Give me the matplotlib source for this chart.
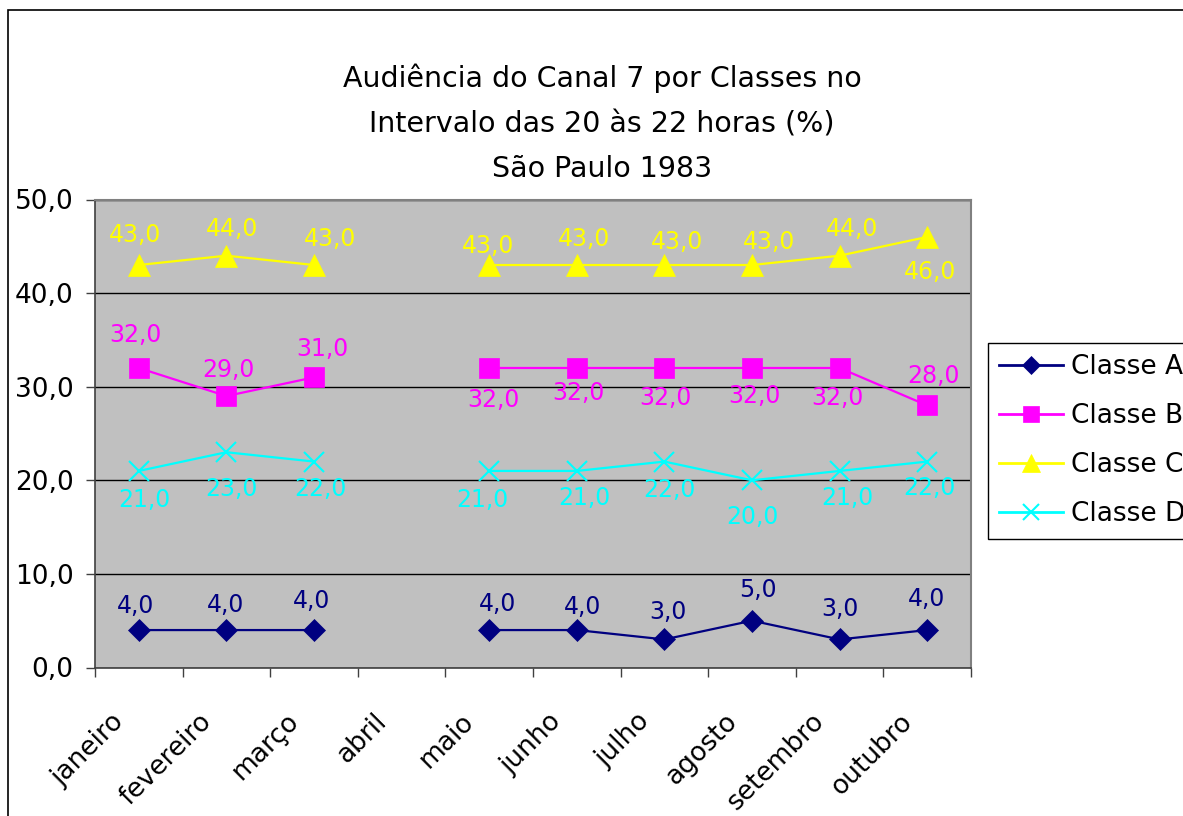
import numpy as np
import matplotlib
matplotlib.use("Agg")
import matplotlib.pyplot as plt
from matplotlib.patches import Rectangle

W, H = 1183, 816
PX = 0.72  # points per pixel at dpi 100

months = ["janeiro", "fevereiro", "março", "abril", "maio", "junho",
          "julho", "agosto", "setembro", "outubro"]
classe_a = [4, 4, 4, np.nan, 4, 4, 3, 5, 3, 4]
classe_b = [32, 29, 31, np.nan, 32, 32, 32, 32, 32, 28]
classe_c = [43, 44, 43, np.nan, 43, 43, 43, 43, 44, 46]
classe_d = [21, 23, 22, np.nan, 21, 21, 22, 20, 21, 22]
series_names = ["Classe A", "Classe B", "Classe C", "Classe D"]
title = "Audiência do Canal 7 por Classes no\nIntervalo das 20 às 22 horas (%)\nSão Paulo 1983"

# label offsets in pixels (dx, dy up) per point
off_a = [(-3, 24), (-1, 25), (-2, 29), None, (8, 26), (6, 23), (4, 27), (6, 31), (0, 30), (-1, 31)]
off_b = [(-3, 33), (2, 26), (8, 28), None, (4, -32), (2, -25), (1, -30), (2, -28), (-2, -30), (6, 29)]
off_c = [(-4, 30), (6, 27), (16, 26), None, (-1, 19), (7, 26), (13, 23), (17, 23), (12, 27), (3, -35)]
off_d = [(6, -29), (5, -37), (6, -27), None, (-7, -29), (8, -27), (5, -28), (0, -37), (8, -27), (2, -26)]

styles = [
    dict(color="#000080", marker="D", ms=11.5),
    dict(color="#FF00FF", marker="s", ms=14),
    dict(color="#FFFF00", marker="^", ms=16),
    dict(color="#00FFFF", marker="x", ms=15),
]

plt.rcParams["font.family"] = ["DejaVu Sans"]
fig = plt.figure(figsize=(W / 100, H / 100), dpi=100)
ax = fig.add_axes([95 / W, 1 - 667.5 / H, (971 - 95) / W, (667.5 - 199.5) / H])
ax.set_facecolor("#C0C0C0")

x = np.arange(len(months))
for vals, offs, st, name in zip([classe_a, classe_b, classe_c, classe_d],
                                [off_a, off_b, off_c, off_d], styles, series_names):
    mew = 1.5 if st["marker"] == "x" else 0.5
    ax.plot(x, vals, color=st["color"], lw=1.6, marker=st["marker"], ms=st["ms"],
            mfc=st["color"], mec=st["color"], mew=mew, label=name, zorder=3)
    for xi, v, o in zip(x, vals, offs):
        if np.isnan(v) or o is None:
            continue
        ax.annotate(f"{v:.1f}".replace(".", ","), xy=(xi, v),
                    xytext=(o[0] * PX, o[1] * PX), textcoords="offset points",
                    ha="center", va="center", fontsize=17, color=st["color"], zorder=4)

ax.set_xlim(-0.5, len(months) - 0.5)
ax.set_ylim(0, 50)
ax.set_yticks(np.arange(0, 51, 10))
ax.set_yticklabels([f"{t:.1f}".replace(".", ",") for t in np.arange(0, 51, 10)], fontsize=19)
ax.yaxis.grid(True, color="black", lw=1)
ax.set_axisbelow(True)
ax.set_xticks(np.arange(-0.5, len(months), 1.0))
ax.set_xticklabels([])
ax.tick_params(axis="both", direction="out", length=6.5, width=1, color="#404040")
ax.tick_params(axis="y", pad=9)

for i, m in enumerate(months):
    ax.annotate(m, xy=(i, 0), xytext=(-19 * PX, -50 * PX), textcoords="offset points",
                rotation=45, rotation_mode="anchor", ha="right", va="center",
                fontsize=19, annotation_clip=False)

for s in ["top", "right"]:
    ax.spines[s].set_color("#808080")
    ax.spines[s].set_linewidth(1.5)
for s in ["left", "bottom"]:
    ax.spines[s].set_color("#404040")
    ax.spines[s].set_linewidth(1.2)

fig.text(602 / W, 1 - 123.5 / H, title, ha="center", va="center", fontsize=20.5, linespacing=1.78)

leg = fig.legend(loc="upper left", bbox_to_anchor=(988 / W, 1 - 342.7 / H), borderaxespad=0,
                 fontsize=19, handlelength=2.42, handletextpad=0.3, labelspacing=0.88,
                 borderpad=0.42, fancybox=False, framealpha=1, edgecolor="black", markerscale=0.8)
leg.get_frame().set_linewidth(1)
for ln in leg.get_lines():
    ln.set_linewidth(2)

fig.add_artist(Rectangle((8 / W, -0.1), 2, 1.1 - 10 / H, transform=fig.transFigure,
                         fill=False, ec="black", lw=1.2))

fig.savefig("out.png", dpi=100)
